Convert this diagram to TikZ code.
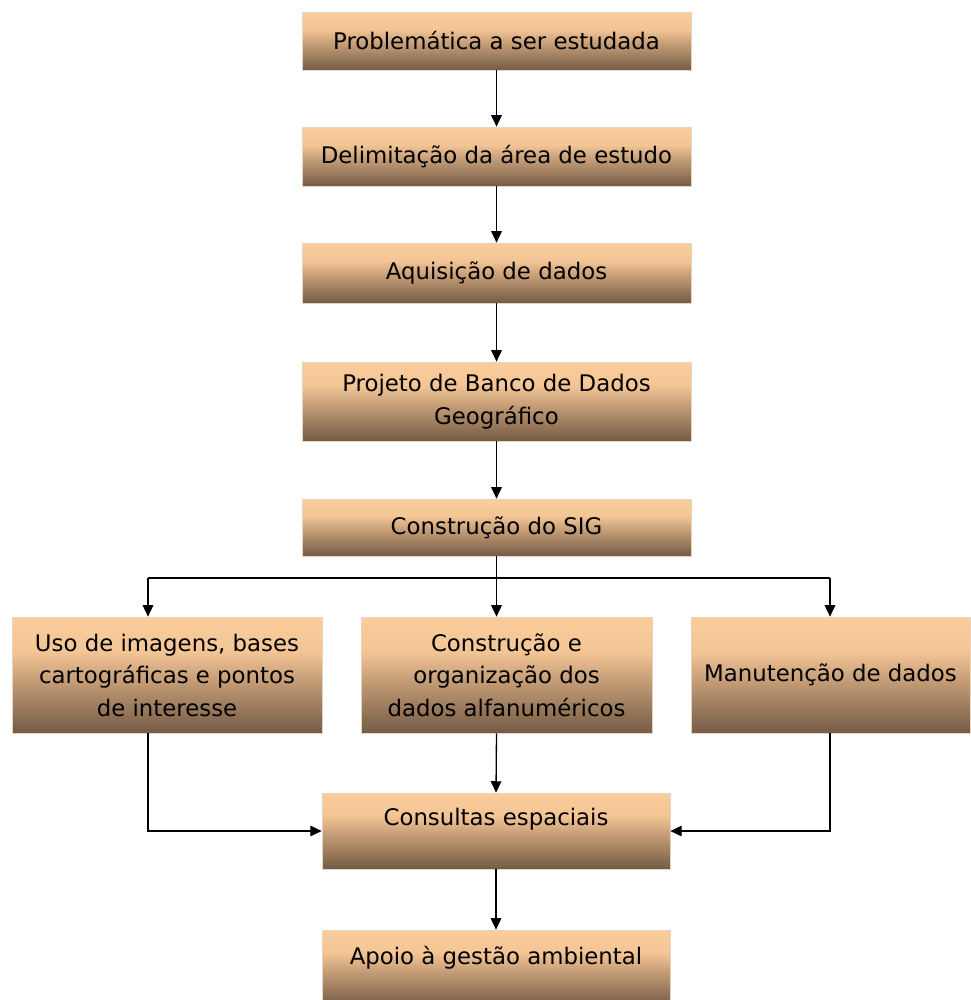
\documentclass[tikz,border=0pt]{standalone}
\usepackage{fontspec}
\setmainfont{DejaVu Sans}
\usetikzlibrary{arrows.meta}
\definecolor{peach}{RGB}{252,205,155}
\definecolor{peachlow}{RGB}{243,197,149}
\definecolor{peachmid}{RGB}{205,164,124}
\definecolor{umber}{RGB}{115,91,68}
\definecolor{rim}{RGB}{232,212,192}
\pgfdeclareverticalshading{boxshade}{100bp}{color(0bp)=(umber); color(25bp)=(umber);
  color(50bp)=(peachmid); color(60bp)=(peachlow); color(75bp)=(peach); color(100bp)=(peach)}
\begin{document}
\begin{tikzpicture}[x=0.02cm,y=-0.02cm,
    box/.style ={draw=rim, line width=0.4pt, shading=boxshade, align=center, inner sep=0pt,
      font=\fontsize{13pt}{18.5pt}\selectfont},
    wide/.style ={box, minimum width=7.78cm, minimum height=#1},
    lift/.style ={text depth=#1},
    arr/.style ={-{Triangle[width=6pt,length=6.5pt]}, line width=0.75pt}]
  \useasboundingbox (0,0) rectangle (970,1000);
  \node[wide=1.16cm] (prob) at (496.5,41) {Problemática a ser estudada};
  \node[wide=1.18cm] (delim) at (496.5,156.5) {Delimitação da área de estudo};
  \node[wide=1.20cm] (aquis) at (496.5,273) {Aquisição de dados};
  \node[wide=1.58cm] (proj) at (496.5,401.5) {Projeto de Banco de Dados\\Geográfico};
  \node[wide=1.14cm] (sig) at (496.5,527.5) {Construção do SIG};
  \node[box, minimum width=6.2cm, minimum height=2.32cm] (uso) at (167,675)
    {Uso de imagens, bases\\cartográficas e pontos\\de interesse};
  \node[box, minimum width=5.82cm, minimum height=2.32cm] (org) at (506.5,675)
    {Construção e\\organização dos\\dados alfanuméricos};
  \node[box, minimum width=5.58cm, minimum height=2.32cm] (manut) at (830.5,675)
    {Manutenção de dados};
  \node[box, minimum width=6.96cm, minimum height=1.52cm, lift=0.58cm] (cons) at (496,831)
    {Consultas espaciais};
  \node[box, minimum width=6.96cm, minimum height=1.52cm, lift=0.52cm] (apoio) at (496,968)
    {Apoio à gestão ambiental};

  \draw[arr] (prob) -- (delim);
  \draw[arr] (delim) -- (aquis);
  \draw[arr] (aquis) -- (proj);
  \draw[arr] (proj) -- (sig);

  \coordinate (split) at (496.5,578);
  \coordinate (jl) at (148,578);
  \coordinate (jr) at (830,578);
  \draw[line width=0.75pt] (sig.south) -- (split);
  \draw[line width=0.75pt] (jl) -- (jr);
  \draw[arr] (jl) -- (jl |- uso.north);
  \draw[arr] (split) -- (split |- org.north);
  \draw[arr] (jr) -- (jr |- manut.north);

  \draw[arr] (jl |- uso.south) -- (jl |- cons.west) -- (cons.west);
  \draw[arr] (jr |- manut.south) -- (jr |- cons.east) -- (cons.east);
  \draw[arr] (split |- org.south) -- (cons.north);
  \draw[arr] (cons) -- (apoio);
\end{tikzpicture}
\end{document}
